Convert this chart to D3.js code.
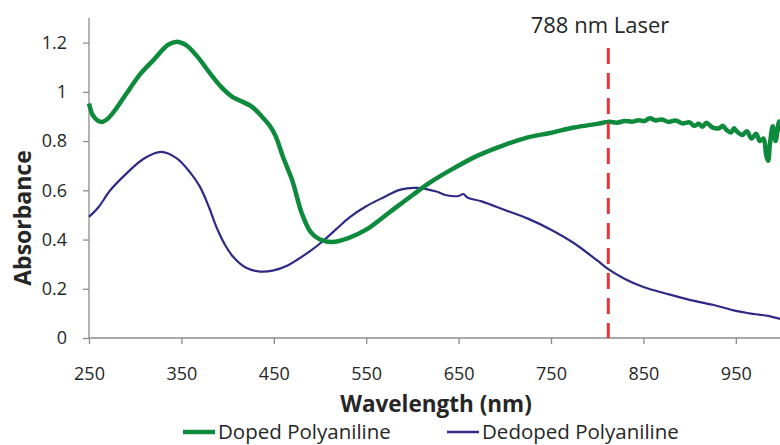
<!DOCTYPE html>
<html>
<head>
<meta charset="utf-8">
<script src="https://cdn.jsdelivr.net/npm/d3@7"></script>
<style>
  body { margin: 0; background: #fff; }
  text { font-family: "Open Sans", sans-serif; fill: #262626; }
</style>
</head>
<body>
<div id="chart"></div>
<script>
// spectra: [wavelength nm, absorbance]
var doped = [[250,0.953],[255,0.90],[263,0.878],[270,0.89],[280,0.935],[290,0.99],[305,1.07],
  [320,1.13],[335,1.19],[344,1.203],[355,1.19],[368,1.14],[380,1.08],[393,1.02],[405,0.98],
  [412,0.967],[426,0.94],[437,0.90],[446,0.86],[452,0.82],[460,0.735],[470,0.64],[480,0.51],
  [490,0.43],[500,0.40],[514,0.39],[530,0.405],[550,0.44],[575,0.51],[600,0.58],[620,0.634],
  [645,0.69],[670,0.74],[700,0.785],[725,0.815],[749,0.833],[775,0.855],[800,0.87],[812,0.878],
  [822,0.875],[830,0.882],[838,0.879],[845,0.885],[851,0.881],[857,0.893],[863,0.884],[870,0.888],
  [877,0.878],[885,0.884],[892,0.872],[900,0.876],[905,0.862],[910,0.87],[914,0.858],[918,0.874],
  [925,0.855],[932,0.852],[936,0.862],[940,0.845],[945,0.835],[948,0.852],[951,0.84],[957,0.825],
  [962,0.84],[967,0.81],[972,0.83],[976,0.80],[980,0.81],[983,0.74],[985,0.72],[987,0.79],
  [990,0.86],[993,0.80],[997,0.88],[1000,0.84]];
var dedoped = [[250,0.492],[260,0.53],[273,0.60],[291,0.67],[310,0.73],[328,0.756],[345,0.73],
  [360,0.67],[370,0.615],[380,0.53],[388,0.45],[397,0.38],[406,0.33],[420,0.285],[435,0.27],
  [450,0.275],[465,0.295],[475,0.317],[490,0.355],[502,0.39],[517,0.44],[532,0.49],[550,0.535],
  [568,0.57],[587,0.603],[605,0.61],[626,0.595],[637,0.58],[650,0.577],[655,0.585],[660,0.57],
  [675,0.555],[700,0.52],[725,0.485],[750,0.44],[775,0.385],[800,0.315],[812,0.28],[830,0.24],
  [850,0.207],[875,0.18],[900,0.155],[925,0.135],[950,0.11],[965,0.10],[975,0.095],[985,0.09],
  [1000,0.075]];
var xTicks = [250,350,450,550,650,750,850,950];
var yTicks = [0,0.2,0.4,0.6,0.8,1,1.2];
var seriesNames = ["Doped Polyaniline","Dedoped Polyaniline"];
var laserAt = 812, laserLabel = "788 nm Laser";

var width = 780, height = 445;
var mLeft = 89, mRight = 782, mTop = 18, mBottom = 338;

var svg = d3.select("#chart").append("svg")
            .attr("width", width)
            .attr("height", height)

var x = d3.scaleLinear().domain([250, 1000]).range([mLeft, mRight]);
var y = d3.scaleLinear().domain([0, 1.3]).range([mBottom, mTop]);

// axes
var xAxis = svg.append("g")
    .attr("transform", "translate(0," + mBottom + ")")
    .call(d3.axisBottom(x).tickValues(xTicks).tickSize(6).tickPadding(23).tickFormat(d3.format("d")));
var yAxis = svg.append("g")
    .attr("transform", "translate(" + mLeft + ",0)")
    .call(d3.axisLeft(y).tickValues(yTicks).tickSize(6).tickPadding(16).tickFormat(d => d));
svg.selectAll(".domain, .tick line").attr("stroke", "#8c8c8c").attr("stroke-width", 1.3);
yAxis.select(".domain").attr("d", "M0," + mTop + "V" + mBottom);
xAxis.select(".domain").attr("d", "M" + mLeft + ",0H" + width);
svg.selectAll(".tick text").style("font-size", "18px").attr("fill", "#333");

var line = d3.line()
    .x(d => x(d[0]))
    .y(d => y(d[1]))
    .curve(d3.curveCatmullRom.alpha(0.5));

svg.append("path").datum(dedoped)
    .attr("d", line).attr("fill", "none")
    .attr("stroke", "#2f2a86").attr("stroke-width", 2.2);
svg.append("path").datum(doped)
    .attr("d", line).attr("fill", "none")
    .attr("stroke", "#0e8a3c").attr("stroke-width", 4.5)
    .attr("stroke-linejoin", "round");

// laser marker
svg.append("line")
    .attr("x1", x(laserAt)).attr("x2", x(laserAt))
    .attr("y1", 48).attr("y2", mBottom)
    .attr("stroke", "#e4343c").attr("stroke-width", 3)
    .attr("stroke-dasharray", "16,9");
svg.append("text")
    .attr("x", 600).attr("y", 33)
    .attr("text-anchor", "middle")
    .style("font-size", "22px")
    .text(laserLabel);

// axis titles
svg.append("text")
    .attr("x", 436).attr("y", 412)
    .attr("text-anchor", "middle")
    .style("font-size", "22.5px").style("font-weight", "bold")
    .text("Wavelength (nm)");
svg.append("text")
    .attr("transform", "translate(31,218) rotate(-90)")
    .attr("text-anchor", "middle")
    .style("font-size", "23px").style("font-weight", "bold")
    .text("Absorbance");

// legend
var legend = [{x: 183, color: "#0e8a3c", w: 4.5}, {x: 447, color: "#2f2a86", w: 2.5}];
legend.forEach((l, i) => {
  svg.append("line")
     .attr("x1", l.x).attr("x2", l.x + 32).attr("y1", 432).attr("y2", 432)
     .attr("stroke", l.color).attr("stroke-width", l.w);
  svg.append("text")
     .attr("x", l.x + 35).attr("y", 439)
     .style("font-size", "20.5px")
     .text(seriesNames[i]);
});
</script>
</body>
</html>
